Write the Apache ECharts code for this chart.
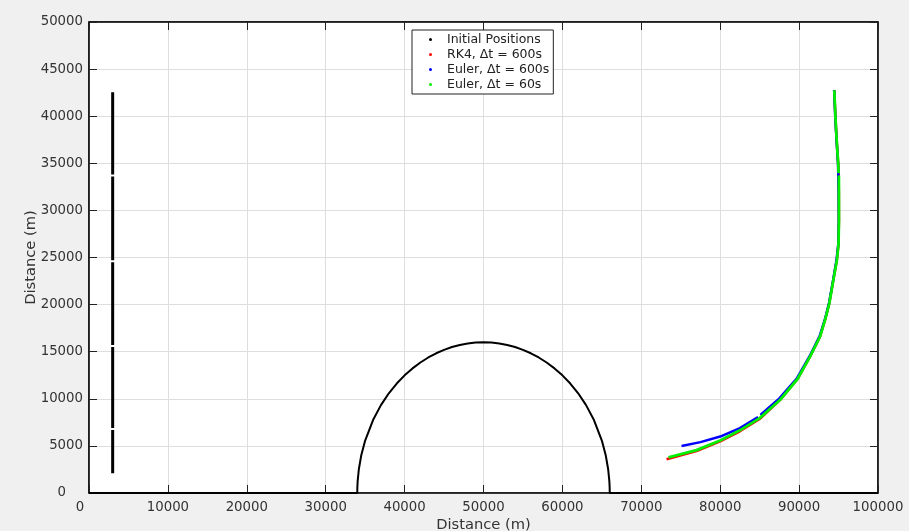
<!DOCTYPE html>
<html>
<head>
<meta charset="utf-8">
<script src="https://cdn.jsdelivr.net/npm/echarts@6/dist/echarts.min.js"></script>
<style>
html,body{margin:0;padding:0;background:#f0f0f0;}
#c{width:909px;height:531px;}
</style>
</head>
<body>
<div id="c"></div>
<script>
// ---- data (metres) ----
const xTicks = [0,10000,20000,30000,40000,50000,60000,70000,80000,90000,100000];
const yTicks = [0,5000,10000,15000,20000,25000,30000,35000,40000,45000,50000];

const seriesNames = ['Initial Positions','RK4, \u0394t = 600s','Euler, \u0394t = 600s','Euler, \u0394t = 60s'];

// initial positions: vertical column at x = 3000 (null = gap)
const initX = [3000,3000,null,3000,3000,null,3000,3000,null,3000,3000,null,3000,3000];
const initY = [2100,6700,null,6900,15500,null,15700,24500,null,24700,33600,null,33800,42550];

// terrain: flat ground with a hill
const terrainX = [0,34000,34010,34050,34200,34500,35000,36000,37000,38000,39000,40000,41000,42000,43000,44000,45000,46000,47000,48000,49000,50000,51000,52000,53000,54000,55000,56000,57000,58000,59000,60000,61000,62000,63000,64000,65000,65500,65800,65950,65990,66000,100000];
const terrainY = [0,0,566,1264,2522,3969,5568,7746,9327,10583,11619,12490,13229,13856,14387,14832,15199,15492,15716,15875,15969,16000,15969,15875,15716,15492,15199,14832,14387,13856,13229,12490,11619,10583,9327,7746,5568,3969,2522,1264,566,0,0];

// RK4, dt = 600 s
const rk4X = [94460,94600,94760,94950,95010,95040,95050,95000,94800,94340,93830,93300,92650,91400,89800,87600,85000,82500,80000,77000,73200];
const rk4Y = [42750,40000,37500,35000,33950,32000,29000,26500,24800,22600,20140,18400,16600,14500,12100,9880,7850,6550,5480,4450,3580];

// Euler, dt = 600 s
const eul600X = [75100,77500,80000,82500,84800,null,85100,87500,89700,91350,92600,93280,93800,94320,94740,94980,95030,95010,94930,94740,94580,94440];
const eul600Y = [4990,5400,5990,6880,8060,null,8280,10050,12150,14550,16650,18450,20200,22650,24750,26500,29000,32000,35000,37500,40000,42780];

// Euler, dt = 60 s
const eul60X = [94460,94600,94760,94950,95010,null,95040,95050,95000,94800,94340,93830,93300,92650,91400,89800,87600,85000,82500,80000,77000,73450];
const eul60Y = [42750,40000,37500,35000,33950,null,33700,29000,26500,24800,22600,20140,18400,16600,14500,12100,9900,7950,6650,5580,4550,3780];

function pairs(xs, ys){
  return xs.map((x,i)=> (x===null||ys[i]===null) ? ['-','-'] : [x, ys[i]]);
}

const font = 'DejaVu Sans';
const tickFont = 13.3;
const chart = echarts.init(document.getElementById('c'));

function baseAxis(extra){
  return Object.assign({
    type:'value',
    axisLine:{show:true,onZero:false,lineStyle:{color:'#000',width:1.5}},
    axisTick:{show:true,inside:true,length:8,lineStyle:{color:'#222',width:1}},
    splitLine:{show:false},
  }, extra);
}

chart.setOption({
  animation:false,
  backgroundColor:'#f0f0f0',
  textStyle:{fontFamily:font},
  grid:{left:89,right:31,top:22,bottom:38,outerBoundsMode:'none',containLabel:false,
    show:true,backgroundColor:'#fff',borderColor:'#000',borderWidth:1},
  legend:{
    data:seriesNames,
    orient:'vertical',
    left:412, top:30,
    padding:[2,4,2,17],
    itemGap:0,
    itemWidth:3, itemHeight:3,
    icon:'circle',
    backgroundColor:'#fff',
    borderColor:'#222', borderWidth:1, borderRadius:0,
    textStyle:{fontFamily:font,fontSize:12.5,color:'#222',lineHeight:15,padding:[0,0,0,10]}
  },
  xAxis:[
    baseAxis({position:'bottom',min:0,max:100000,interval:10000,
      name:'Distance (m)',nameLocation:'middle',nameGap:25,nameMoveOverlap:false,
      nameTextStyle:{fontFamily:font,fontSize:14.7,color:'#333'},
      axisLabel:{color:'#333',fontSize:tickFont,fontFamily:font,margin:8,
        formatter:v=> v===0 ? '{z|0}' : (xTicks.indexOf(v)>=0 ? String(v) : ''),
        rich:{z:{fontSize:tickFont,fontFamily:font,color:'#333',padding:[0,18,0,0]}}},
      splitLine:{show:true,lineStyle:{color:'#dedede',width:1}}}),
    baseAxis({position:'top',min:0,max:100000,interval:10000,axisLabel:{show:false}})
  ],
  yAxis:[
    baseAxis({position:'left',min:0,max:50000,interval:5000,
      name:'Distance (m)',nameLocation:'middle',nameGap:50,nameMoveOverlap:false,
      nameTextStyle:{fontFamily:font,fontSize:14.7,color:'#333'},
      axisLabel:{color:'#333',fontSize:tickFont,fontFamily:font,margin:6,
        formatter:v=> v===0 ? '{z|0}' : (yTicks.indexOf(v)>=0 ? String(v) : ''),
        rich:{z:{fontSize:tickFont,fontFamily:font,color:'#333',padding:[0,17,0,0]}}},
      splitLine:{show:true,lineStyle:{color:'#dedede',width:1}}}),
    baseAxis({position:'right',min:0,max:50000,interval:5000,axisLabel:{show:false}})
  ],
  series:[
    {name:seriesNames[0],type:'line',data:pairs(initX,initY),showSymbol:false,symbol:'none',
      itemStyle:{color:'#000'},lineStyle:{color:'#000',width:3},connectNulls:false},
    {name:'terrain',type:'line',data:pairs(terrainX,terrainY),showSymbol:false,symbol:'none',
      itemStyle:{color:'#000'},lineStyle:{color:'#000',width:2}},
    {name:seriesNames[1],type:'line',data:pairs(rk4X,rk4Y),showSymbol:false,symbol:'none',
      itemStyle:{color:'#ff0000'},lineStyle:{color:'#ff0000',width:2.5}},
    {name:seriesNames[2],type:'line',data:pairs(eul600X,eul600Y),showSymbol:false,symbol:'none',
      itemStyle:{color:'#0000ff'},lineStyle:{color:'#0000ff',width:2.5},connectNulls:false},
    {name:seriesNames[3],type:'line',data:pairs(eul60X,eul60Y),showSymbol:false,symbol:'none',
      itemStyle:{color:'#00ee00'},lineStyle:{color:'#00ee00',width:2.8},connectNulls:false}
  ]
});
</script>
</body>
</html>
